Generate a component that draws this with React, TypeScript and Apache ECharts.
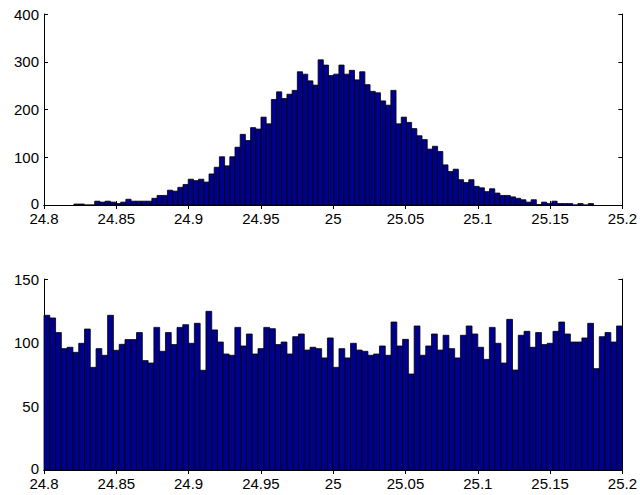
import React, { useEffect, useRef } from "react";
import * as echarts from "echarts";

// Top histogram: 100 bins between data min and max
const topMin = 24.8207;
const topMax = 25.18;
const topCounts = [
  2, 2, 0, 0, 8, 6, 8, 6, 3, 6,
  12, 8, 8, 8, 8, 14, 20, 20, 31, 29,
  37, 43, 54, 51, 54, 48, 65, 79, 101, 82,
  101, 121, 148, 135, 162, 159, 184, 170, 221, 237,
  223, 232, 240, 279, 274, 260, 251, 304, 293, 271,
  274, 293, 274, 282, 262, 279, 252, 238, 235, 218,
  209, 240, 170, 184, 173, 160, 145, 137, 117, 123,
  112, 84, 70, 75, 53, 47, 53, 39, 36, 28,
  34, 25, 20, 20, 17, 14, 11, 6, 11, 1,
  6, 3, 8, 3, 3, 3, 0, 3, 0, 3,
];

// Bottom histogram: 100 bins between 24.8 and 25.2
const botMin = 24.8;
const botMax = 25.2;
const botCounts = [
  121.5, 119.4, 107.9, 95.3, 96.4, 92.4, 99.5, 110.7, 80.6, 95.3,
  90.1, 121.5, 94, 98.7, 102.4, 102.4, 107.9, 85.9, 84, 112,
  93.2, 107.9, 98.5, 112, 114.1, 99.5, 115.2, 78.3, 124.6, 110,
  100.5, 91.1, 90.1, 112, 97.4, 106.8, 91.1, 95.3, 112, 111,
  98.5, 100.5, 91.1, 104.7, 106.8, 94.2, 96.4, 95.3, 88, 103.7,
  80.6, 95.3, 88, 99.5, 94.2, 93.2, 90.1, 91.1, 97.4, 90.1,
  116.2, 97.4, 102.6, 75.4, 113.1, 90.1, 97.4, 106.8, 94.2, 105.8,
  95.3, 88, 105.8, 113.1, 106.8, 96.4, 86.9, 112, 99.5, 84,
  118.3, 78.5, 105.8, 108.9, 96.4, 107.9, 98.5, 99.5, 108.9, 116.2,
  106.8, 100.5, 100.5, 103.7, 115.2, 79.6, 104.7, 107.9, 100.5, 113.1,
];

const xMin = 24.8;
const xMax = 25.2;
const xInterval = 0.05;
const topYTicks = [0, 100, 200, 300, 400];
const botYTicks = [0, 50, 100, 150];

function bins(lo: number, hi: number, counts: number[]) {
  const w = (hi - lo) / counts.length;
  return counts.map((c, i) => [lo + i * w, lo + (i + 1) * w, c]);
}

const FONT = "'Liberation Sans', Arial, sans-serif";

export default function App() {
  const ref = useRef<HTMLDivElement>(null);
  useEffect(() => {
    if (!ref.current) return;
    const chart = echarts.init(ref.current, null, { renderer: "svg" });
    const axisLine = { show: true, lineStyle: { color: "#000", width: 1 } };
    const tickIn = { show: true, inside: true, length: 4, lineStyle: { color: "#000", width: 1 } };
    const label = { color: "#000", fontSize: 15, fontFamily: FONT, lineHeight: 12 };
    const fmt = (v: number) => String(parseFloat(v.toFixed(3)));

    const xAxisFor = (gi: number, top: boolean) => ({
      type: "value",
      gridIndex: gi,
      position: top ? "top" : "bottom",
      min: xMin,
      max: xMax,
      interval: xInterval,
      axisLine,
      axisTick: tickIn,
      splitLine: { show: false },
      axisLabel: top ? { show: false } : { ...label, margin: 7, formatter: fmt, showMaxLabel: true, showMinLabel: true },
    });
    const yAxisFor = (gi: number, ticks: number[], right: boolean) => ({
      type: "value",
      gridIndex: gi,
      position: right ? "right" : "left",
      min: ticks[0],
      max: ticks[ticks.length - 1],
      interval: ticks[1] - ticks[0],
      axisLine,
      axisTick: tickIn,
      splitLine: { show: false },
      axisLabel: right
        ? { show: false }
        : {
            ...label,
            margin: 5,
            formatter: (v: number) => (v === ticks[0] ? "{z|" + v + "}" : String(v)),
            rich: {
              z: { color: "#000", fontSize: 15, fontFamily: FONT, lineHeight: 12, padding: [0, 0, 4, 0] },
            },
          },
    });

    const renderItem = (params: any, api: any) => {
      const x0 = api.value(0);
      const x1 = api.value(1);
      const c = api.value(2);
      const p0 = api.coord([x0, c]);
      const p1 = api.coord([x1, 0]);
      return {
        type: "rect",
        shape: { x: p0[0], y: p0[1], width: p1[0] - p0[0], height: p1[1] - p0[1] },
        style: { fill: "#00008f", stroke: "#000", lineWidth: 0.8 },
      };
    };

    chart.setOption({
      animation: false,
      backgroundColor: "#fff",
      grid: [
        { left: 44, top: 14, width: 579, height: 191 },
        { left: 44, top: 279, width: 579, height: 191 },
      ],
      xAxis: [xAxisFor(0, false), xAxisFor(0, true), xAxisFor(1, false), xAxisFor(1, true)],
      yAxis: [yAxisFor(0, topYTicks, false), yAxisFor(0, topYTicks, true), yAxisFor(1, botYTicks, false), yAxisFor(1, botYTicks, true)],
      series: [
        {
          type: "custom",
          xAxisIndex: 0,
          yAxisIndex: 0,
          renderItem,
          encode: { x: [0, 1], y: 2 },
          data: bins(topMin, topMax, topCounts),
        },
        {
          type: "custom",
          xAxisIndex: 2,
          yAxisIndex: 2,
          renderItem,
          encode: { x: [0, 1], y: 2 },
          data: bins(botMin, botMax, botCounts),
        },
      ],
    });
    return () => chart.dispose();
  }, []);
  return (
    <div
      ref={ref}
      style={{ position: "fixed", left: 0, top: 0, width: 640, height: 495, background: "#fff" }}
    />
  );
}
